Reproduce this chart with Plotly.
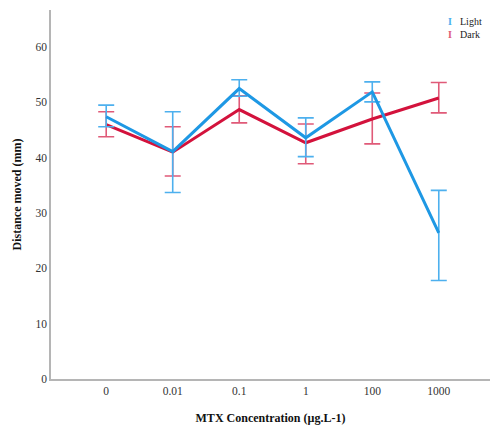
import plotly.graph_objects as go

categories = ["0", "0.01", "0.1", "1", "100", "1000"]
y_ticks = [0, 10, 20, 30, 40, 50, 60]

light_mean = [47.4, 41.1, 52.5, 43.6, 51.9, 26.4]
light_upper = [49.5, 48.3, 54.1, 47.2, 53.7, 34.1]
light_lower = [45.6, 33.7, 51.1, 40.2, 50.1, 17.8]

dark_mean = [46.0, 41.0, 48.7, 42.7, 47.0, 50.8]
dark_upper = [48.3, 45.6, 51.2, 46.1, 51.7, 53.6]
dark_lower = [43.8, 36.7, 46.3, 38.9, 42.5, 48.1]

legend_labels = ["Light", "Dark"]

star_label = "*"
star_cat = "1000"
star_y = 37.0

BLUE = "#1e98e4"
BLUE_ERR = "#4db0ee"
RED = "#d3123c"
RED_ERR = "#e05a78"
FONT = "Liberation Serif"

fig = go.Figure()


def add_series(name, mean, upper, lower, color, ecolor):
    fig.add_trace(go.Scatter(
        x=categories, y=mean, name=name, mode="lines",
        line=dict(color=color, width=3),
        error_y=dict(
            type="data", symmetric=False,
            array=[u - m for u, m in zip(upper, mean)],
            arrayminus=[m - l for m, l in zip(mean, lower)],
            color=ecolor, thickness=1.6, width=8,
        ),
        showlegend=False,
    ))


add_series("Dark", dark_mean, dark_upper, dark_lower, RED, RED_ERR)
add_series("Light", light_mean, light_upper, light_lower, BLUE, BLUE_ERR)

fig.add_annotation(x=star_cat, y=star_y, text=star_label, showarrow=False,
                   font=dict(family=FONT, size=18, color="black"))

# legend drawn as text (symbols column + labels column)
sym_text = "<br>".join(
    f"<span style='color:{c}'><b>I</b></span>" for c in [BLUE_ERR, RED_ERR])
fig.add_annotation(xref="paper", yref="paper", x=0.908, y=0.951, text=sym_text,
                   showarrow=False, xanchor="center", yanchor="middle",
                   borderpad=0, align="center",
                   font=dict(family=FONT, size=10, color=BLUE_ERR))
fig.add_annotation(xref="paper", yref="paper", x=0.93, y=0.951,
                   text="<br>".join(legend_labels),
                   showarrow=False, xanchor="left", yanchor="middle",
                   borderpad=0, align="left",
                   font=dict(family=FONT, size=10, color="#222"))

fig.update_layout(
    width=491, height=425,
    margin=dict(l=51, r=1, t=10, b=46),
    plot_bgcolor="white", paper_bgcolor="white",
    font=dict(family=FONT, size=11, color="#333"),
    xaxis=dict(
        type="category", range=[-0.83, 5.77],
        showline=True, linecolor="#b5b5b5", linewidth=1.5,
        showgrid=False, zeroline=False, ticks="",
        tickfont=dict(family=FONT, size=11.5, color="#333"),
        title=dict(text="<b>MTX Concentration (µg.L-1)</b>",
                   font=dict(family=FONT, size=12, color="#111"), standoff=19),
    ),
    yaxis=dict(
        range=[0, 66.7], tickvals=y_ticks,
        showline=True, linecolor="#b5b5b5", linewidth=1.5,
        showgrid=False, zeroline=False, ticks="",
        tickfont=dict(family=FONT, size=11.5, color="#333"),
        title=dict(text="<b>Distance moved (mm)</b>",
                   font=dict(family=FONT, size=12, color="#111"), standoff=11),
    ),
)

fig.write_html("out.html", config={"displayModeBar": False},
               post_script="document.body.style.margin='0';")
